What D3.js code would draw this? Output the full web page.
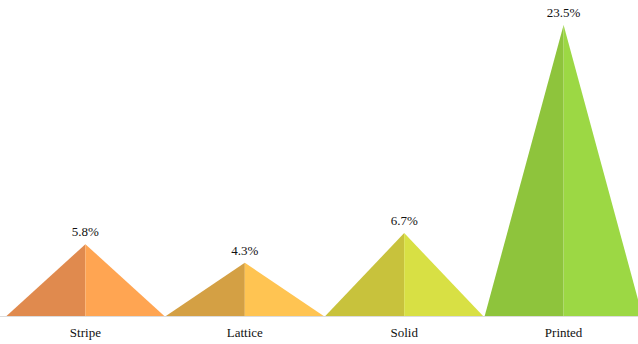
<!DOCTYPE html>
<html>
<head>
<meta charset="utf-8">
<script src="https://cdn.jsdelivr.net/npm/d3@7"></script>
<style>
  body { margin: 0; background: #fff; }
</style>
</head>
<body>
<div id="chart"></div>
<script>
const categories = ['Stripe', 'Lattice', 'Solid', 'Printed'];
const values = [5.8, 4.3, 6.7, 23.5];
const leftColors = ['#E08A4E', '#D4A044', '#C8C23C', '#8EC43C'];
const rightColors = ['#FFA552', '#FFC452', '#D8E044', '#9CD844'];

const w = 638, h = 344;
const base = 316;
const font = "'Liberation Serif'";

const svg = d3.select('#chart').append('svg')
  .attr('width', w)
  .attr('height', h);

const x = d3.scaleBand()
  .domain(categories)
  .range([6.5, 642.5])
  .paddingInner(0.01);

const y = d3.scaleLinear()
  .domain([0, 25])
  .range([base, 6.5]);

const data = categories.map((c, i) => ({ cat: c, v: values[i], i: i }));

const g = svg.selectAll('g.pyr')
  .data(data)
  .enter()
  .append('g')
  .attr('class', 'pyr');

// left face (darker)
g.append('path')
  .attr('d', d => {
    const x0 = x(d.cat), xc = x0 + x.bandwidth() / 2;
    return 'M' + x0 + ',' + base + 'L' + xc + ',' + y(d.v) + 'L' + xc + ',' + base + 'Z';
  })
  .attr('fill', d => leftColors[d.i]);

// right face (lighter)
g.append('path')
  .attr('d', d => {
    const x0 = x(d.cat), xc = x0 + x.bandwidth() / 2, x1 = x0 + x.bandwidth();
    return 'M' + xc + ',' + base + 'L' + xc + ',' + y(d.v) + 'L' + x1 + ',' + base + 'Z';
  })
  .attr('fill', d => rightColors[d.i]);

g.append('text')
  .attr('x', d => x(d.cat) + x.bandwidth() / 2)
  .attr('y', d => y(d.v) - 8)
  .attr('text-anchor', 'middle')
  .style('font-family', font)
  .style('font-size', '13px')
  .style('fill', '#111')
  .text(d => d.v.toFixed(1) + '%');

// baseline
svg.append('line')
  .attr('x1', 0).attr('x2', w)
  .attr('y1', base + 0.5).attr('y2', base + 0.5)
  .attr('stroke', '#dcdcdc')
  .attr('stroke-width', 1);

const xAxis = d3.axisBottom(x).tickSize(0).tickPadding(12);
svg.append('g')
  .attr('transform', 'translate(0,' + base + ')')
  .call(xAxis)
  .call(a => a.select('.domain').remove())
  .selectAll('text')
  .style('font-family', font)
  .style('font-size', '13px')
  .style('fill', '#111');
</script>
</body>
</html>
